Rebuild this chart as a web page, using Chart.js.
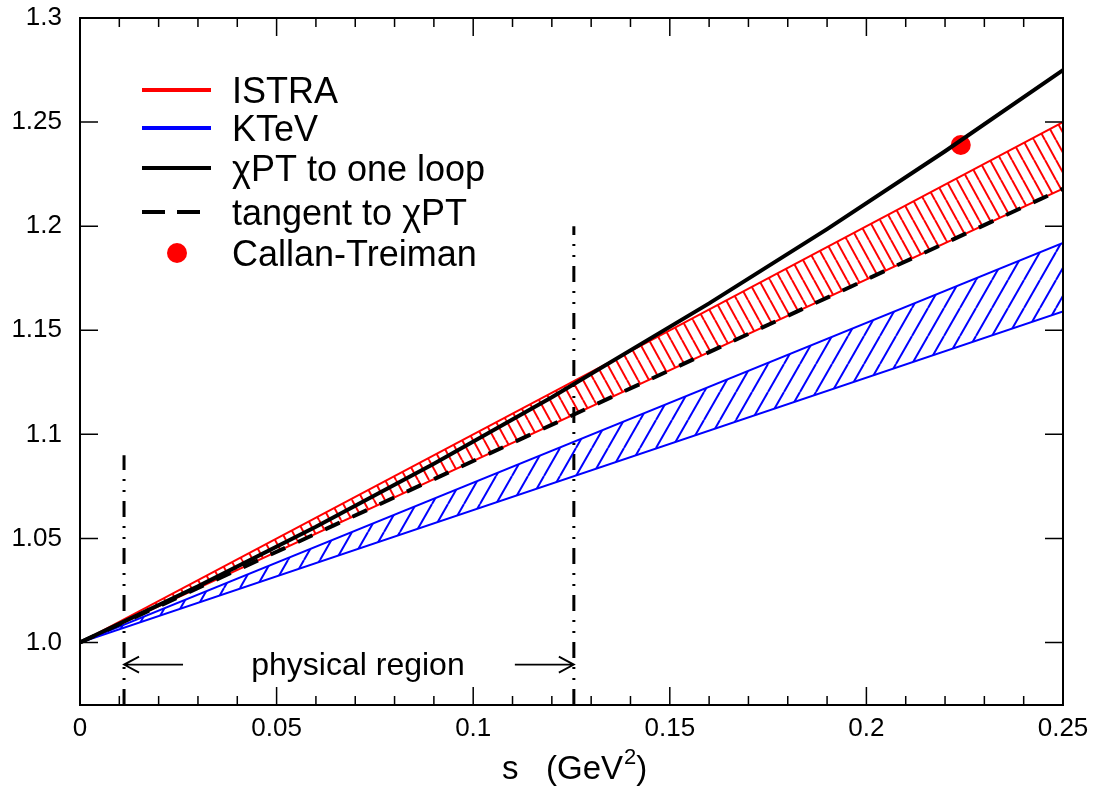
<!DOCTYPE html>
<html>
<head>
<meta charset="utf-8">
<script src="https://cdn.jsdelivr.net/npm/chart.js@4.4.0/dist/chart.umd.min.js"></script>
<style>
  html, body { margin: 0; padding: 0; background: #fff; }
  #wrap { width: 1093px; height: 787px; }
</style>
</head>
<body>
<div id="wrap"><canvas id="myChart" width="1093" height="787"></canvas></div>
<script>
// values
var sChpt = [0, 0.03, 0.06, 0.09, 0.12, 0.16, 0.19, 0.22, 0.25];
var fChpt = [1.0, 1.027, 1.0556, 1.0859, 1.1178, 1.1629, 1.1986, 1.236, 1.275];
var sEnds = [0, 0.25];
var tangentVals = [1.0, 1.218];
var istraUpper = [1.0, 1.25];
var istraLower = [1.0, 1.218];
var ktevUpper = [1.0, 1.192];
var ktevLower = [1.0, 1.159];
var callanTreiman = { s: 0.224, f: 1.239 };
var physBounds = [0.0112, 0.1256];
var physTops = [1.09, 1.2];
var arrowLevel = 0.9894;
var xTicks = [0, 0.05, 0.1, 0.15, 0.2, 0.25];
var xTickLabels = ["0", "0.05", "0.1", "0.15", "0.2", "0.25"];
var yTicks = [1.0, 1.05, 1.1, 1.15, 1.2, 1.25, 1.3];
var yTickLabels = ["1.0", "1.05", "1.1", "1.15", "1.2", "1.25", "1.3"];
var yMin = 0.97, yMax = 1.3;

var FONT = "'Liberation Sans', Arial, sans-serif";

function pts(xs, ys) {
  return xs.map(function (x, i) { return { x: x, y: ys[i] }; });
}

// hatch pattern: slanted lines in a w x h tile
function hatch(color, w, h, up) {
  var c = document.createElement("canvas");
  c.width = w; c.height = h;
  var g = c.getContext("2d");
  g.strokeStyle = color;
  g.lineWidth = 2;
  for (var k = -1; k <= 1; k++) {
    g.beginPath();
    if (up) { g.moveTo(k * w, h); g.lineTo((k + 1) * w, 0); }
    else { g.moveTo(k * w, 0); g.lineTo((k + 1) * w, h); }
    g.stroke();
  }
  return g.createPattern(c, "repeat");
}

var ctx = document.getElementById("myChart").getContext("2d");
var redHatch = hatch("#ff0000", 11, 20, false);
var blueHatch = hatch("#0000ff", 16, 28, true);

var overlay = {
  id: "overlay",
  afterDraw: function (chart) {
    var c = chart.ctx, a = chart.chartArea;
    var xs = chart.scales.x, ys = chart.scales.y;
    c.save();
    c.strokeStyle = "#000";
    c.fillStyle = "#000";

    // frame
    c.lineWidth = 2;
    c.strokeRect(a.left, a.top, a.right - a.left, a.bottom - a.top);

    // ticks (inside, all four sides)
    c.lineWidth = 1.5;
    c.beginPath();
    for (var i = 0; i <= 25; i++) {
      var v = i / 100;
      var px = xs.getPixelForValue(v);
      var len = (i % 5 === 0) ? 18 : 9;
      c.moveTo(px, a.bottom); c.lineTo(px, a.bottom - len);
      c.moveTo(px, a.top); c.lineTo(px, a.top + len);
    }
    yTicks.forEach(function (v) {
      var py = ys.getPixelForValue(v);
      c.moveTo(a.left, py); c.lineTo(a.left + 18, py);
      c.moveTo(a.right, py); c.lineTo(a.right - 18, py);
    });
    c.stroke();

    // physical region arrows
    var ay = ys.getPixelForValue(arrowLevel);
    var xl = xs.getPixelForValue(physBounds[0]);
    var xr = xs.getPixelForValue(physBounds[1]);
    c.lineWidth = 1.8;
    c.beginPath();
    c.moveTo(xl + 59, ay); c.lineTo(xl, ay);
    c.moveTo(xl + 15, ay - 8); c.lineTo(xl, ay); c.lineTo(xl + 15, ay + 8);
    c.moveTo(xr - 59, ay); c.lineTo(xr, ay);
    c.moveTo(xr - 15, ay - 8); c.lineTo(xr, ay); c.lineTo(xr - 15, ay + 8);
    c.stroke();
    c.font = "32px " + FONT;
    c.textAlign = "center";
    c.textBaseline = "alphabetic";
    c.fillText("physical region", (xl + xr) / 2 + 9, ay + 10);

    // legend
    var rows = [
      { y: 90, label: "ISTRA", color: "#ff0000", dash: [] },
      { y: 128, label: "KTeV", color: "#0000ff", dash: [] },
      { y: 168, label: "\u03c7PT to one loop", color: "#000", dash: [] },
      { y: 212, label: "tangent to \u03c7PT", color: "#000", dash: [23, 12] },
      { y: 253, label: "Callan-Treiman", color: "#ff0000", dot: true }
    ];
    c.textAlign = "left";
    c.font = "36px " + FONT;
    rows.forEach(function (r) {
      if (r.dot) {
        c.fillStyle = r.color;
        c.beginPath(); c.arc(177, r.y, 10, 0, Math.PI * 2); c.fill();
      } else {
        c.strokeStyle = r.color;
        c.lineWidth = 4;
        c.setLineDash(r.dash);
        c.beginPath(); c.moveTo(142, r.y); c.lineTo(211, r.y); c.stroke();
        c.setLineDash([]);
      }
      c.fillStyle = "#000";
      c.fillText(r.label, 232, r.y + 13);
    });

    // x axis title with superscript
    c.font = "33px " + FONT;
    var tx = 502, ty = 779;
    c.fillText("s   (GeV", tx, ty);
    tx += c.measureText("s   (GeV").width;
    c.font = "22px " + FONT;
    c.fillText("2", tx + 1, ty - 15);
    tx += c.measureText("2").width + 1;
    c.font = "33px " + FONT;
    c.fillText(")", tx, ty);
    c.restore();
  }
};

var chart = new Chart(ctx, {
  type: "line",
  data: {
    datasets: [
      {
        label: "chiPT to one loop",
        data: pts(sChpt, fChpt),
        borderColor: "#000", borderWidth: 4, pointRadius: 0, fill: false, tension: 0
      },
      {
        label: "tangent to chiPT",
        data: pts(sEnds, tangentVals),
        borderColor: "#000", borderWidth: 4, borderDash: [16, 14], pointRadius: 0, fill: false
      },
      {
        label: "Callan-Treiman",
        data: [{ x: callanTreiman.s, y: callanTreiman.f }],
        showLine: false, pointRadius: 10, pointBackgroundColor: "#ff0000",
        pointBorderWidth: 0, borderColor: "#ff0000", fill: false
      },
      {
        label: "ISTRA",
        data: pts(sEnds, istraUpper),
        borderColor: "#ff0000", borderWidth: 2, pointRadius: 0,
        fill: 4, backgroundColor: redHatch
      },
      {
        label: "ISTRA low",
        data: pts(sEnds, istraLower),
        borderColor: "#ff0000", borderWidth: 2, pointRadius: 0, fill: false
      },
      {
        label: "KTeV",
        data: pts(sEnds, ktevUpper),
        borderColor: "#0000ff", borderWidth: 2, pointRadius: 0,
        fill: 6, backgroundColor: blueHatch
      },
      {
        label: "KTeV low",
        data: pts(sEnds, ktevLower),
        borderColor: "#0000ff", borderWidth: 2, pointRadius: 0, fill: false
      },
      {
        label: "bound 1",
        data: [{ x: physBounds[0], y: yMin }, { x: physBounds[0], y: physTops[0] }],
        borderColor: "#000", borderWidth: 3, borderDash: [16, 9, 2, 9, 2, 9], pointRadius: 0, fill: false
      },
      {
        label: "bound 2",
        data: [{ x: physBounds[1], y: yMin }, { x: physBounds[1], y: physTops[1] }],
        borderColor: "#000", borderWidth: 3, borderDash: [16, 9, 2, 9, 2, 9], pointRadius: 0, fill: false
      }
    ]
  },
  options: {
    responsive: false,
    animation: false,
    layout: { padding: { top: 18, right: 30, left: 0, bottom: 0 } },
    plugins: { legend: { display: false }, tooltip: { enabled: false } },
    scales: {
      x: {
        type: "linear", min: 0, max: 0.25,
        afterBuildTicks: function (s) { s.ticks = xTicks.map(function (v) { return { value: v }; }); },
        afterFit: function (s) { s.height = 82; s.paddingLeft = 0; s.paddingRight = 0; },
        grid: { display: false, drawTicks: false },
        border: { display: false },
        ticks: {
          autoSkip: false, maxRotation: 0, padding: 8, color: "#000",
          font: { family: FONT, size: 26 },
          callback: function (v, i) { return xTickLabels[i]; }
        }
      },
      y: {
        type: "linear", min: yMin, max: yMax,
        afterBuildTicks: function (s) { s.ticks = yTicks.map(function (v) { return { value: v }; }); },
        afterFit: function (s) { s.width = 80; s.paddingTop = 0; s.paddingBottom = 0; },
        grid: { display: false, drawTicks: false },
        border: { display: false },
        ticks: {
          autoSkip: false, padding: 18, color: "#000",
          font: { family: FONT, size: 26 },
          callback: function (v, i) { return yTickLabels[i]; }
        }
      }
    }
  },
  plugins: [overlay]
});
</script>
</body>
</html>
